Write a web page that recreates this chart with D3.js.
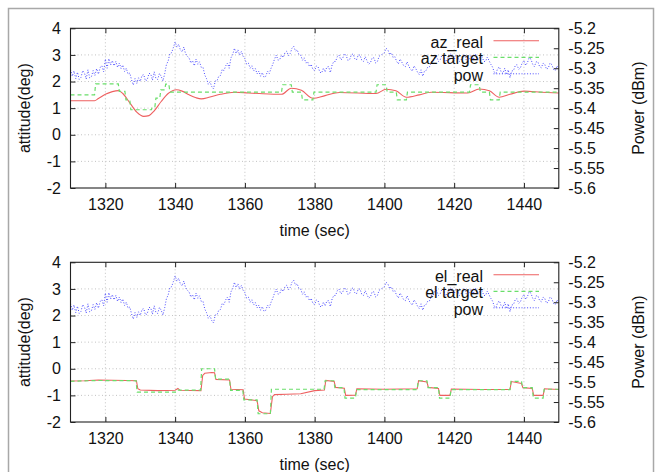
<!DOCTYPE html>
<html><head><meta charset="utf-8">
<script src="https://cdn.jsdelivr.net/npm/d3@7"></script>
<style>
html,body{margin:0;padding:0;background:#fff;}
svg{display:block;font-family:"Liberation Sans",Arial,Helvetica,sans-serif;}
</style></head>
<body><svg id="chart" width="661" height="472"></svg>
<script>
// ---------- DATA ----------
const xTicks = [1320, 1340, 1360, 1380, 1400, 1420, 1440];
const yTicks = [-2, -1, 0, 1, 2, 3, 4];
const y2Ticks = [-5.2, -5.25, -5.3, -5.35, -5.4, -5.45, -5.5, -5.55, -5.6];
const powStart = 1310, powStep = 0.5;
const powValues = [
-5.303,-5.320,-5.307,-5.326,-5.310,-5.328,-5.323,-5.306,-5.312,-5.327,-5.304,-5.324,-5.321,-5.306,-5.318,-5.301,
-5.315,-5.298,-5.294,-5.309,-5.277,-5.300,-5.276,-5.292,-5.281,-5.294,-5.283,-5.298,-5.287,-5.301,-5.292,-5.308,
-5.300,-5.315,-5.312,-5.329,-5.342,-5.326,-5.338,-5.324,-5.333,-5.318,-5.316,-5.332,-5.329,-5.313,-5.314,-5.330,
-5.309,-5.326,-5.328,-5.313,-5.320,-5.332,-5.314,-5.291,-5.282,-5.263,-5.261,-5.248,-5.234,-5.247,-5.240,-5.254,
-5.259,-5.247,-5.264,-5.270,-5.274,-5.287,-5.281,-5.294,-5.277,-5.290,-5.284,-5.298,-5.298,-5.317,-5.326,-5.340,
-5.334,-5.346,-5.352,-5.332,-5.332,-5.320,-5.318,-5.303,-5.306,-5.294,-5.287,-5.300,-5.274,-5.266,-5.250,-5.263,
-5.254,-5.267,-5.258,-5.270,-5.276,-5.290,-5.287,-5.300,-5.294,-5.307,-5.301,-5.314,-5.307,-5.320,-5.311,-5.323,
-5.320,-5.307,-5.313,-5.300,-5.290,-5.277,-5.267,-5.280,-5.278,-5.267,-5.273,-5.261,-5.257,-5.269,-5.263,-5.250,
-5.245,-5.257,-5.254,-5.266,-5.267,-5.280,-5.274,-5.287,-5.284,-5.296,-5.290,-5.303,-5.306,-5.294,-5.297,-5.310,
-5.312,-5.300,-5.309,-5.297,-5.296,-5.311,-5.292,-5.283,-5.283,-5.271,-5.267,-5.279,-5.276,-5.264,-5.267,-5.280,
-5.279,-5.267,-5.264,-5.276,-5.279,-5.267,-5.267,-5.280,-5.283,-5.271,-5.281,-5.290,-5.286,-5.274,-5.274,-5.287,
-5.283,-5.270,-5.267,-5.264,-5.261,-5.250,-5.254,-5.266,-5.261,-5.273,-5.271,-5.283,-5.289,-5.277,-5.285,-5.293,
-5.296,-5.284,-5.295,-5.303,-5.307,-5.294,-5.301,-5.310,-5.316,-5.304,-5.320,-5.307,-5.305,-5.296,-5.296,-5.283,
-5.283,-5.271,-5.271,-5.283,-5.279,-5.267,-5.271,-5.284,-5.279,-5.267,-5.264,-5.276,-5.279,-5.267,-5.271,-5.283,
-5.279,-5.267,-5.267,-5.280,-5.283,-5.271,-5.267,-5.279,-5.264,-5.276,-5.279,-5.267,-5.271,-5.283,-5.283,-5.272,
-5.281,-5.290,-5.297,-5.310,-5.313,-5.300,-5.297,-5.310,-5.313,-5.300,-5.316,-5.304,-5.324,-5.307,-5.306,-5.294,
-5.291,-5.303,-5.299,-5.287,-5.281,-5.293,-5.286,-5.274,-5.277,-5.290,-5.296,-5.284,-5.284,-5.296,-5.299,-5.287,
-5.291,-5.303,-5.299,-5.287,-5.291,-5.303,-5.306,-5.294,-5.300
];
const azTargetT = [1310,1316.9,1317.2,1323.7,1324.0,1325.6,1325.9,1327.0,1327.3,1333.2,1333.5,1334.2,1334.5,1335.6,1335.9,1337.0,1337.3,1338.2,1338.5,1370.5,1370.8,1373.3,1373.6,1376.2,1376.5,1379.5,1379.8,1397.6,1397.9,1400.5,1400.8,1403.4,1403.7,1406.3,1406.6,1424.4,1424.7,1427.2,1427.5,1430.1,1430.4,1432.9,1433.2,1450];
const azTargetV = [1.5,1.5,1.91,1.91,1.63,1.63,1.31,1.31,0.94,0.94,1.06,1.06,1.38,1.38,1.69,1.69,1.9,1.9,1.6,1.6,1.88,1.88,1.6,1.6,1.31,1.31,1.6,1.6,1.88,1.88,1.6,1.6,1.31,1.31,1.6,1.6,1.88,1.88,1.6,1.6,1.31,1.31,1.6,1.6];
const azRealT = [1310,1316.9,1318,1320,1322,1323.7,1325,1327,1329,1331,1332.5,1334,1336,1338,1340.4,1342,1344,1346,1347.5,1350,1353,1357,1361,1365.2,1370.5,1373.3,1376.2,1379.5,1383,1387.1,1397.6,1400.5,1403.3,1406.3,1410,1413.4,1423.9,1427.2,1430.1,1432.9,1436,1440,1445,1450];
const azRealV = [1.28,1.28,1.36,1.52,1.62,1.66,1.55,1.2,0.85,0.69,0.72,0.9,1.25,1.55,1.69,1.64,1.5,1.39,1.35,1.42,1.52,1.6,1.57,1.54,1.52,1.75,1.67,1.37,1.47,1.59,1.55,1.71,1.65,1.41,1.5,1.6,1.57,1.72,1.65,1.41,1.52,1.64,1.6,1.57];
const elTargetT = [1310,1318,1328.8,1329.1,1340.5,1340.8,1347.3,1347.6,1351.3,1351.6,1355.6,1355.9,1359.4,1359.7,1363.5,1363.8,1367.3,1367.6,1382.7,1383.0,1385.5,1385.8,1388.4,1388.7,1391.7,1392.0,1409.4,1409.7,1412.2,1412.5,1415.5,1415.8,1418.8,1419.1,1436.0,1436.3,1439.3,1439.6,1442.4,1442.7,1445.5,1445.8,1450];
const elTargetV = [-0.47,-0.44,-0.45,-0.88,-0.88,-0.8,-0.8,0.0,0.0,-0.39,-0.39,-0.81,-0.81,-1.17,-1.17,-1.69,-1.69,-0.77,-0.77,-0.45,-0.45,-0.71,-0.71,-1.1,-1.1,-0.78,-0.78,-0.45,-0.45,-0.71,-0.71,-1.1,-1.1,-0.78,-0.78,-0.47,-0.47,-0.71,-0.71,-1.1,-1.1,-0.77,-0.77];
const elRealT = [1310,1314,1318,1322,1326,1328.9,1329.3,1330,1335,1340,1340.8,1341.4,1347.4,1347.9,1348.5,1350.5,1351.3,1351.7,1355.6,1356.0,1359.5,1359.9,1363.5,1364.0,1365,1367.3,1367.9,1368.5,1372,1376,1380,1382.8,1383.2,1385.6,1386.0,1388.5,1388.9,1391.7,1392.1,1400,1409.4,1409.8,1412.2,1412.6,1415.5,1415.9,1418.8,1419.2,1428,1436,1436.4,1439.3,1439.7,1442.4,1442.8,1445.5,1445.9,1450];
const elRealV = [-0.46,-0.45,-0.42,-0.43,-0.44,-0.45,-0.75,-0.8,-0.82,-0.81,-0.74,-0.81,-0.82,-0.25,-0.17,-0.14,-0.15,-0.4,-0.42,-0.77,-0.79,-1.14,-1.2,-1.58,-1.65,-1.68,-1.05,-0.97,-0.96,-0.94,-0.82,-0.8,-0.44,-0.48,-0.7,-0.73,-1.0,-0.99,-0.75,-0.77,-0.75,-0.45,-0.5,-0.7,-0.74,-1.0,-1.0,-0.76,-0.78,-0.78,-0.48,-0.55,-0.71,-0.74,-1.0,-1.0,-0.75,-0.78];

// ---------- DRAW ----------
const svg = d3.select("#chart");
svg.append("rect").attr("x",8.5).attr("y",8.5).attr("width",645).attr("height",480)
  .attr("fill","none").attr("stroke","#a8a8a8").attr("stroke-width",1.5);

const COL_RED = "#ee6060", COL_GREEN = "#6ade6a", COL_BLUE = "#4a4aff";
const left = 70.5, right = 558.8;
const x = d3.scaleLinear().domain([1310,1450]).range([left,right]);
const hyph = s => s.replace("\u2212","-");
const powData = powValues.map((v,i)=>({t: powStart + i*powStep, v}));

function panel(top, realT, realV, tgtT, tgtV, realCurve, names){
  const bottom = top + 159.7;
  const y = d3.scaleLinear().domain([-2,4]).range([bottom, top]);
  const y2 = d3.scaleLinear().domain([-5.6,-5.2]).range([bottom, top]);
  const g = svg.append("g");
  // grid
  g.append("g").selectAll("line").data(xTicks).join("line")
    .attr("x1",d=>x(d)).attr("x2",d=>x(d)).attr("y1",top).attr("y2",bottom)
    .attr("stroke","#b4b4b4").attr("stroke-width",0.8).attr("stroke-dasharray","1,2.5");
  g.append("g").selectAll("line").data(yTicks.filter(d=>d>-2&&d<4)).join("line")
    .attr("x1",left).attr("x2",right).attr("y1",d=>y(d)).attr("y2",d=>y(d))
    .attr("stroke","#b4b4b4").attr("stroke-width",0.8).attr("stroke-dasharray","1,2.5");
  // axes
  const fontSize = 16;
  const axL = g.append("g").attr("transform",`translate(${left},0)`)
    .call(d3.axisLeft(y).tickValues(yTicks).tickSize(-5).tickPadding(9.5).tickFormat(d=>hyph(String(d))));
  const axB = g.append("g").attr("transform",`translate(0,${bottom})`)
    .call(d3.axisBottom(x).tickValues(xTicks).tickSize(-5).tickPadding(11).tickFormat(d=>String(d)));
  const axT = g.append("g").attr("transform",`translate(0,${top})`)
    .call(d3.axisTop(x).tickValues(xTicks).tickSize(-5).tickFormat(""));
  const axR = g.append("g").attr("transform",`translate(${right},0)`)
    .call(d3.axisRight(y2).tickValues(y2Ticks).tickSize(-5).tickPadding(9.5).tickFormat(d=>String(+d.toFixed(2)).replace("\u2212","-")));
  [axL,axB,axT,axR].forEach(a=>{
    a.select(".domain").remove();
    a.selectAll("line").attr("stroke","#222").attr("stroke-width",1);
    a.selectAll("text").attr("font-size",fontSize).attr("fill","#111")
      .attr("font-family",'"Liberation Sans",Arial,sans-serif');
  });
  // series
  const clipId = "clip"+Math.round(top);
  svg.append("clipPath").attr("id",clipId).append("rect")
    .attr("x",left).attr("y",top).attr("width",right-left).attr("height",bottom-top);
  const pg = g.append("g").attr("clip-path",`url(#${clipId})`);
  const realData = realT.map((t,i)=>({t, v: realV[i]}));
  const tgtData = tgtT.map((t,i)=>({t, v: tgtV[i]}));
  pg.append("path").attr("d", d3.line().x(d=>x(d.t)).y(d=>y(d.v)).curve(realCurve)(realData))
    .attr("fill","none").attr("stroke",COL_RED).attr("stroke-width",1.1);
  pg.append("path").attr("d", d3.line().x(d=>x(d.t)).y(d=>y(d.v))(tgtData))
    .attr("fill","none").attr("stroke",COL_GREEN).attr("stroke-width",1.2).attr("stroke-dasharray","4,3");
  pg.append("path").attr("d", d3.line().x(d=>x(d.t)).y(d=>y2(d.v))(powData))
    .attr("fill","none").attr("stroke",COL_BLUE).attr("stroke-width",1).attr("stroke-dasharray","1,1.8");
  // frame
  g.append("rect").attr("x",left).attr("y",top).attr("width",right-left).attr("height",bottom-top)
    .attr("fill","none").attr("stroke","#222").attr("stroke-width",1.1);
  // legend
  const styles = [
    {c:COL_RED, dash:null, w:1.1},
    {c:COL_GREEN, dash:"4,3", w:1.2},
    {c:COL_BLUE, dash:"1,1.8", w:1}
  ];
  names.forEach((n,i)=>{
    const cy = top + 14 + i*16.5;
    g.append("text").attr("x",483).attr("y",cy+5.5).attr("text-anchor","end")
      .attr("font-size",fontSize).attr("fill","#111").text(n);
    g.append("line").attr("x1",493.5).attr("x2",539).attr("y1",cy-1.5).attr("y2",cy-1.5)
      .attr("stroke",styles[i].c).attr("stroke-width",styles[i].w)
      .attr("stroke-dasharray",styles[i].dash);
  });
  // axis titles
  g.append("text").attr("x",(left+right)/2).attr("y",bottom+47.5).attr("text-anchor","middle")
    .attr("font-size",fontSize).attr("fill","#111").text("time (sec)");
  g.append("text").attr("transform",`translate(30,${(top+bottom)/2}) rotate(-90)`)
    .attr("text-anchor","middle").attr("font-size",fontSize).attr("fill","#111").text("attitude(deg)");
  g.append("text").attr("transform",`translate(644,${(top+bottom)/2}) rotate(-90)`)
    .attr("text-anchor","middle").attr("font-size",fontSize).attr("fill","#111").text("Power (dBm)");
}

panel(28.3, azRealT, azRealV, azTargetT, azTargetV, d3.curveMonotoneX, ["az_real","az target","pow"]);
panel(262.3, elRealT, elRealV, elTargetT, elTargetV, d3.curveLinear, ["el_real","el target","pow"]);
</script>
</body></html>
